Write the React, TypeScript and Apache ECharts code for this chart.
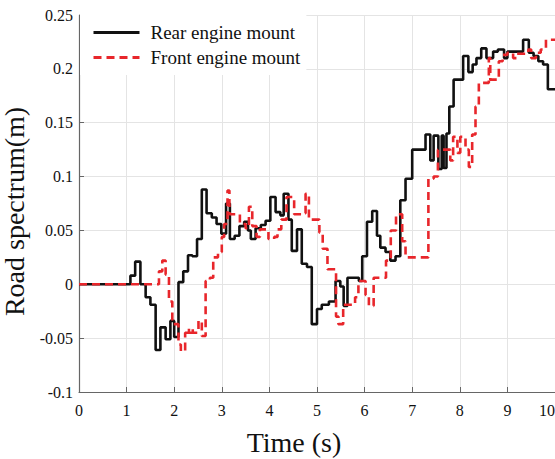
import React, { useEffect, useRef } from "react";
import * as echarts from "echarts";

const rearSeriesName = "Rear engine mount";
const frontSeriesName = "Front engine mount";
const xTitle = "Time (s)";
const yTitle = "Road spectrum(m)";

// [time (s), value (m)] — value holds from this time until the next point
const rearMount: [number, number][] = [
  [0, 0], [1.08, 0.008], [1.18, 0.021], [1.29, 0], [1.4, -0.012], [1.5, -0.019],
  [1.61, -0.061], [1.71, -0.04], [1.82, -0.051], [1.92, -0.034], [2.0, -0.049],
  [2.09, 0.002], [2.19, 0.012], [2.29, 0.027], [2.38, 0.026], [2.48, 0.042],
  [2.58, 0.088], [2.68, 0.066], [2.79, 0.062], [2.89, 0.056], [2.99, 0.047],
  [3.09, 0.075], [3.17, 0.042], [3.27, 0.045], [3.37, 0.054], [3.47, 0.058],
  [3.55, 0.05], [3.61, 0.042], [3.71, 0.052], [3.82, 0.055], [3.92, 0.059],
  [4.02, 0.081], [4.13, 0.067], [4.23, 0.064], [4.3, 0.084], [4.4, 0.06],
  [4.47, 0.031], [4.58, 0.051], [4.68, 0.019], [4.79, 0.016], [4.89, -0.037],
  [5.0, -0.023], [5.1, -0.019], [5.25, -0.016], [5.39, 0.003], [5.49, -0.002],
  [5.56, -0.02], [5.64, 0.006], [5.88, 0.003], [5.95, 0.026], [6.05, 0.058],
  [6.16, 0.068], [6.26, 0.045], [6.33, 0.034], [6.44, 0.03], [6.54, 0.022],
  [6.65, 0.026], [6.75, 0.078], [6.86, 0.098], [7.0, 0.125], [7.28, 0.139],
  [7.38, 0.115], [7.45, 0.138], [7.55, 0.107], [7.62, 0.138], [7.66, 0.108],
  [7.72, 0.14], [7.78, 0.165], [7.87, 0.19], [8.07, 0.212], [8.18, 0.197],
  [8.27, 0.204], [8.35, 0.21], [8.45, 0.219], [8.56, 0.21], [8.7, 0.216],
  [8.8, 0.218], [8.93, 0.21], [9.0, 0.216], [9.33, 0.227], [9.45, 0.215],
  [9.55, 0.212], [9.65, 0.207], [9.75, 0.204], [9.85, 0.181], [10, 0.181],
];

const frontMount: [number, number][] = [
  [0, 0], [1.68, 0.012], [1.75, 0.022], [1.82, 0.009], [1.89, -0.016],
  [1.96, -0.037], [2.09, -0.056], [2.14, -0.062], [2.23, -0.045], [2.29, -0.041],
  [2.31, -0.045], [2.37, -0.041], [2.39, -0.045], [2.51, -0.034], [2.58, -0.048],
  [2.66, 0.003], [2.75, 0.006], [2.82, 0.025], [2.92, 0.03], [3.0, 0.044],
  [3.05, 0.056], [3.12, 0.087], [3.16, 0.065], [3.31, 0.065], [3.38, 0.056],
  [3.5, 0.052], [3.57, 0.072], [3.64, 0.054], [3.73, 0.044], [3.8, 0.051],
  [3.98, 0.042], [4.1, 0.044], [4.17, 0.051], [4.25, 0.06], [4.36, 0.081],
  [4.52, 0.065], [4.68, 0.066], [4.76, 0.084], [4.83, 0.06], [5.05, 0.048],
  [5.12, 0.033], [5.22, 0.014], [5.4, -0.03], [5.45, -0.037], [5.55, -0.019],
  [5.8, -0.012], [5.87, 0.003], [6.02, -0.01], [6.09, -0.02], [6.19, 0.006],
  [6.45, 0.022], [6.55, 0.05], [6.66, 0.065], [6.79, 0.04], [6.86, 0.025],
  [7.34, 0.098], [7.45, 0.1], [7.54, 0.125], [7.8, 0.115], [7.86, 0.137],
  [7.95, 0.122], [8.01, 0.137], [8.12, 0.125], [8.19, 0.109], [8.26, 0.139],
  [8.33, 0.165], [8.4, 0.187], [8.61, 0.21], [8.64, 0.19], [8.82, 0.207],
  [8.9, 0.213], [9.0, 0.215], [9.12, 0.21], [9.2, 0.214], [9.44, 0.218],
  [9.5, 0.21], [9.6, 0.215], [9.7, 0.218], [9.81, 0.227], [10, 0.227],
];

const xTicks = { min: 0, max: 10, interval: 1 };
const yTicks = { min: -0.1, max: 0.25, interval: 0.05 };

const FONT = "Liberation Serif";

export default function App() {
  const ref = useRef<HTMLDivElement>(null);
  useEffect(() => {
    if (!ref.current) return;
    const chart = echarts.init(ref.current, undefined, { renderer: "svg" });
    chart.setOption({
      animation: false,
      backgroundColor: "#ffffff",
      textStyle: { fontFamily: FONT },
      grid: {
        left: 79,
        right: 0,
        top: 15,
        bottom: 67,
        containLabel: false,
        outerBoundsMode: "none",
      },
      legend: {
        orient: "vertical",
        left: 80,
        top: 15,
        padding: [8, 6, 8, 12],
        itemGap: 6,
        itemWidth: 46,
        itemHeight: 19,
        backgroundColor: "#ffffff",
        itemStyle: { opacity: 0 },
        lineStyle: { width: 3 },
        textStyle: { fontFamily: FONT, fontSize: 19, color: "#111", padding: [0, 0, 0, 6] },
        data: [rearSeriesName, frontSeriesName],
      },
      xAxis: {
        type: "value",
        min: xTicks.min,
        max: xTicks.max,
        interval: xTicks.interval,
        name: xTitle,
        nameLocation: "middle",
        nameGap: 36,
        nameTextStyle: { fontFamily: FONT, fontSize: 28, color: "#111", padding: [0, 46, 0, 0] },
        axisLine: { show: true, onZero: false, lineStyle: { color: "#666", width: 1.2 } },
        axisTick: { show: true, inside: true, length: 5, lineStyle: { color: "#666" } },
        axisLabel: {
          fontFamily: FONT,
          fontSize: 16,
          color: "#111",
          margin: 10,
          alignMaxLabel: "right",
        },
        splitLine: { show: true, lineStyle: { color: "#e4e4e4", width: 1 } },
      },
      yAxis: {
        type: "value",
        min: yTicks.min,
        max: yTicks.max,
        interval: yTicks.interval,
        name: yTitle,
        nameLocation: "middle",
        nameGap: 38,
        nameTextStyle: { fontFamily: FONT, fontSize: 28, color: "#111", padding: [0, 16, 0, 0] },
        axisLine: { show: true, onZero: false, lineStyle: { color: "#666", width: 1.2 } },
        axisTick: { show: true, inside: true, length: 5, lineStyle: { color: "#666" } },
        axisLabel: {
          fontFamily: FONT,
          fontSize: 16,
          color: "#111",
          margin: 6,
          formatter: (v: number) => String(parseFloat(v.toFixed(2))),
        },
        splitLine: { show: true, lineStyle: { color: "#e4e4e4", width: 1 } },
      },
      series: [
        {
          name: rearSeriesName,
          type: "line",
          step: "end",
          symbol: "none",
          data: rearMount,
          lineStyle: { color: "#111111", width: 2.6 },
          itemStyle: { color: "#111111" },
          z: 3,
        },
        {
          name: frontSeriesName,
          type: "line",
          step: "end",
          symbol: "none",
          data: frontMount,
          lineStyle: { color: "#e8262b", width: 2.6, type: [8, 5] },
          itemStyle: { color: "#e8262b" },
          z: 4,
        },
      ],
    });
    return () => chart.dispose();
  }, []);
  return (
    <div
      ref={ref}
      style={{ position: "fixed", left: 0, top: 0, width: 555, height: 459 }}
    />
  );
}
